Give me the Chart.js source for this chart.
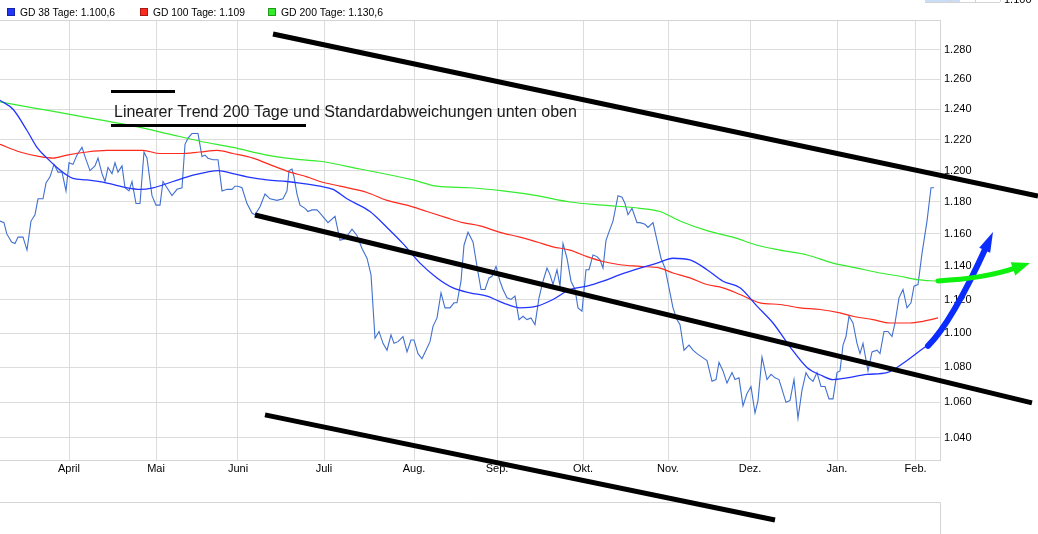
<!DOCTYPE html>
<html><head><meta charset="utf-8">
<script src="https://cdn.jsdelivr.net/npm/chart.js@4.4.1/dist/chart.umd.min.js"></script>
<style>html,body{margin:0;padding:0;background:#fff;overflow:hidden}canvas{display:block}</style>
</head><body>
<canvas id="c" width="1038" height="534"></canvas>
<script>
// x unit = trading day index
const monthLabels = ['April','Mai','Juni','Juli','Aug.','Sep.','Okt.','Nov.','Dez.','Jan.','Feb.'];
const monthDays = [17.25,39,59.5,81,103.5,124.25,145.75,167,187.5,209.25,228.9];
const yTicks = [1.04,1.06,1.08,1.10,1.12,1.14,1.16,1.18,1.20,1.22,1.24,1.26,1.28];
const legendLabels = ['GD 38 Tage: 1.100,6','GD 100 Tage: 1.109','GD 200 Tage: 1.130,6'];

const price = [
[0,1.168],[1,1.167],[1.7,1.160],[2.9,1.155],[3.75,1.154],[4.5,1.158],[5.75,1.158],[6.75,1.150],[7.75,1.168],[8.75,1.172],
[9.5,1.182],[10.75,1.182],[11.5,1.192],[12.5,1.196],[13.5,1.204],[14.5,1.199],[15.5,1.199],[16.5,1.187],[17.25,1.205],[18.25,1.204],
[19.25,1.210],[20.5,1.215],[21.25,1.209],[22.5,1.200],[23.75,1.203],[24.5,1.208],[25.5,1.198],[26.25,1.193],[27,1.202],[28,1.198],
[28.75,1.205],[29.5,1.199],[30.5,1.203],[31.25,1.189],[32.25,1.187],[33,1.193],[34,1.179],[35,1.179],[36,1.212],[36.75,1.208],
[38,1.184],[39,1.178],[40,1.178],[40.75,1.193],[41.75,1.189],[43,1.184],[44.25,1.188],[45.5,1.189],[46.25,1.217],[47,1.221],
[48,1.224],[49.5,1.224],[50.5,1.209],[51.25,1.210],[52,1.208],[53.25,1.207],[54.5,1.207],[55.5,1.187],[56.75,1.188],[58,1.188],
[58.75,1.190],[59.5,1.190],[60.5,1.189],[61.75,1.179],[63,1.173],[63.75,1.172],[65,1.177],[66.25,1.185],[67.5,1.182],[69.25,1.181],
[70.75,1.182],[71.75,1.187],[72.25,1.200],[73,1.201],[73.5,1.196],[74.25,1.185],[75,1.178],[76.25,1.176],[77,1.174],[78,1.175],
[79.25,1.175],[80,1.173],
[82,1.167],[83.75,1.171],[85,1.156],[86.25,1.157],[88,1.163],[89.25,1.159],[90.5,1.151],[91.75,1.145],[92.75,1.135],[93.75,1.097],
[94.75,1.101],[95.75,1.094],[96.75,1.090],[97.75,1.099],[98.5,1.094],[99.5,1.095],[100.75,1.098],[101.75,1.089],[102.75,1.096],[103.5,1.096],
[104.5,1.088],[105.5,1.085],[106.5,1.090],[107.5,1.095],[108.25,1.104],[109.25,1.109],[110.25,1.124],[111.25,1.115],[112.5,1.115],[113.5,1.118],
[114.25,1.118],[115.25,1.131],[116,1.153],[117,1.161],[118.25,1.155],[119.25,1.140],[120.25,1.126],[121.25,1.126],[122.25,1.133],[123,1.134],
[124,1.140],[125,1.131],[125.75,1.126],[126.75,1.121],[127.75,1.120],[128.75,1.122],[129.75,1.108],[130.75,1.110],[131.75,1.108],[132.75,1.109],
[133.75,1.105],[134.75,1.121],[135.75,1.131],[136.75,1.139],[137.5,1.135],[138.25,1.129],[139.25,1.138],[140,1.128],[140.75,1.154],[141.75,1.145],
[142.75,1.131],[143.75,1.126],[144.5,1.115],[145.5,1.113],[146.5,1.138],[147.25,1.138],[148.25,1.147],[149.25,1.146],[150,1.144],[150.75,1.139],
[151.5,1.156],[152.5,1.163],[153.25,1.168],[154.5,1.184],[155.5,1.183],[156.25,1.179],[157,1.172],[158,1.176],[159.25,1.167],[160,1.167],
[161.25,1.166],[162,1.164],[163.25,1.167],[164.25,1.156],[165.25,1.145],[166.25,1.139],[167.5,1.124],[168.25,1.115],[169.25,1.108],[170,1.105],
[171,1.090],[172.25,1.093],[173.25,1.090],[174.25,1.088],[175.5,1.086],[176.75,1.084],[178,1.072],[179,1.073],[179.75,1.083],[180.75,1.078],
[181.75,1.071],[183,1.077],[183.75,1.073],[184.75,1.074],[185.75,1.058],[186.75,1.065],[187.75,1.069],[188.75,1.054],[189.5,1.061],[190.5,1.086],
[191.75,1.073],[192.75,1.076],[193.75,1.074],[194.75,1.073],[196.5,1.060],[197.5,1.061],[198.5,1.073],[199.5,1.051],[200.5,1.067],[201.5,1.077],
[202.25,1.074],[203.25,1.072],[204.25,1.077],[205.25,1.069],[206.25,1.069],[207.25,1.062],[208.25,1.062],[209.25,1.077],[210,1.078],[210.75,1.093],
[211.5,1.098],[212.25,1.110],[213.25,1.106],[214.25,1.094],[215,1.088],[215.75,1.094],[217,1.078],[218,1.089],[219.25,1.090],[220,1.088],
[221,1.101],[222,1.101],[223,1.098],[223.75,1.106],[224.75,1.121],[225.75,1.126],[226.75,1.115],[227.75,1.118],[228.5,1.128],[229.5,1.129],
[230.5,1.148],[231.75,1.168],[232.75,1.189],[233.5,1.189]
];

const gd38 = [
[0,1.246],[3.25,1.240],[6.75,1.226],[9.25,1.215],[11.75,1.208],[14.25,1.202],[16.75,1.197],[18.25,1.195],[21.75,1.194],[26.75,1.192],
[31.75,1.189],[35,1.188],[38.25,1.189],[43.25,1.193],[48.25,1.197],[51.75,1.199],[54.5,1.200],[58.25,1.198],[61.75,1.196],[66.75,1.194],
[71.75,1.193],[75,1.192],[80,1.190],[83.25,1.188],[86.75,1.182],[92.5,1.174],[96.75,1.164],[100.75,1.154],[105,1.142],[109.25,1.133],
[113.25,1.127],[117.5,1.124],[121.75,1.122],[125.75,1.118],[130,1.115],[134.25,1.116],[138.25,1.120],[142.5,1.126],[146.75,1.128],[150.75,1.131],
[155,1.135],[160,1.139],[164.25,1.142],[168.25,1.145],[172.5,1.144],[176.75,1.138],[180.75,1.131],[185,1.127],[189.25,1.116],[193.25,1.106],
[197.5,1.092],[201.75,1.080],[205.75,1.075],[208.25,1.073],[211.75,1.074],[216.75,1.076],[221.75,1.077],[226.75,1.084],[230.75,1.091],[233.25,1.095]
];
const gd100 = [
[0,1.217],[5,1.212],[10,1.209],[13.25,1.208],[16.75,1.210],[21.75,1.212],[26.75,1.213],[31.75,1.213],[35.75,1.213],[40,1.211],
[45,1.211],[50,1.212],[54.25,1.213],[58.25,1.211],[63.25,1.208],[68.25,1.203],[72.5,1.199],[76.75,1.196],[80,1.193],[85,1.190],
[91.75,1.186],[96.75,1.181],[101.75,1.178],[106.75,1.174],[111.75,1.170],[115.75,1.167],[120,1.165],[125,1.161],[130,1.158],[134.25,1.155],
[138.25,1.152],[142.5,1.150],[146.75,1.146],[150.75,1.143],[155,1.141],[160,1.140],[165,1.139],[168.25,1.136],[172.5,1.133],[176.75,1.129],
[180.75,1.127],[185,1.123],[190,1.118],[195,1.117],[200,1.115],[205,1.114],[210,1.112],[213.25,1.110],[218.25,1.108],[222.5,1.106],
[227.5,1.106],[230.75,1.107],[234.5,1.109]
];
const gd200 = [
[0,1.245],[8.25,1.241],[16.75,1.237],[25,1.233],[33.25,1.229],[41.75,1.224],[50,1.219],[58.25,1.215],[66.75,1.210],[75,1.207],
[80,1.206],[90,1.201],[103.25,1.194],[109.25,1.190],[117.5,1.189],[125.75,1.187],[134.25,1.184],[142.5,1.180],[150.75,1.178],[160,1.176],
[165,1.174],[170,1.168],[176.75,1.162],[183.25,1.158],[189.25,1.153],[195,1.150],[201.75,1.147],[208.25,1.142],[214.25,1.139],[220,1.136],
[225,1.134],[229.25,1.132],[234.5,1.131]
];

// hand-drawn annotations, in (day, value)
const trendLines = [
  [[68.25,1.291],[259.5,1.1838]],
  [[63.75,1.1718],[258,1.0597]],
  [[66.25,1.0529],[193.75,0.9953]]
];
const noteLines = [
  [[27.75,1.2519],[43.75,1.2519]],
  [[27.75,1.2293],[76.5,1.2293]]
];
const noteText = 'Linearer Trend 200 Tage und Standardabweichungen unten oben';
const notePos = [28.5,1.2349];
const blueArrow = [[232,1.0925],[238,1.1066],[248.25,1.1612]];
const greenArrow = [[234.5,1.1312],[246.25,1.1326],[257.5,1.1421]];

const colors = {price:'#4170d0', gd38:'#2235ff', gd100:'#ff2a1e', gd200:'#33ec2c'};
const toXY = a => a.map(p => ({x:p[0], y:p[1]}));

const decor = {
  id:'decor',
  afterDraw(chart){
    const ctx = chart.ctx, ca = chart.chartArea;
    const xs = chart.scales.x, ys = chart.scales.y;
    const P = p => [xs.getPixelForValue(p[0]), ys.getPixelForValue(p[1])];
    ctx.save();
    // frame
    ctx.strokeStyle = '#d4d4d4'; ctx.lineWidth = 1;
    ctx.beginPath();
    ctx.moveTo(0, ca.top + 0.5); ctx.lineTo(ca.right + 0.5, ca.top + 0.5);
    ctx.moveTo(ca.right + 0.5, ca.top); ctx.lineTo(ca.right + 0.5, ca.bottom);
    ctx.moveTo(0, 502.5); ctx.lineTo(ca.right + 0.5, 502.5); ctx.lineTo(ca.right + 0.5, 534);
    ctx.stroke();
    // small navigator fragment top right
    ctx.fillStyle = '#c9ddf7'; ctx.fillRect(925, 0, 35, 2);
    ctx.strokeStyle = '#d4d4d4';
    ctx.beginPath(); ctx.moveTo(925, 2.5); ctx.lineTo(1000, 2.5);
    ctx.moveTo(950.5,0); ctx.lineTo(950.5,2); ctx.moveTo(975.5,0); ctx.lineTo(975.5,2); ctx.moveTo(1000.5,0); ctx.lineTo(1000.5,2);
    ctx.stroke();
    ctx.fillStyle = '#000'; ctx.font = '11px "Liberation Sans", Arial, sans-serif';
    ctx.textBaseline = 'alphabetic'; ctx.textAlign = 'left';
    ctx.fillText('1.100', 1004, 3);
    // legend
    const ds = [colors.gd38, colors.gd100, colors.gd200];
    const boxX = [7, 140, 268], textW = [95, 92, 102];
    ctx.textBaseline = 'middle';
    legendLabels.forEach((t, i) => {
      ctx.fillStyle = ds[i]; ctx.fillRect(boxX[i], 8, 8, 8);
      ctx.strokeStyle = 'rgba(0,0,0,0.35)'; ctx.strokeRect(boxX[i] + 0.5, 8.5, 7, 7);
      ctx.fillStyle = '#000'; ctx.fillText(t, boxX[i] + 13, 12.5, textW[i]);
    });
    // trend lines
    ctx.strokeStyle = '#000'; ctx.lineCap = 'butt';
    ctx.lineWidth = 5;
    trendLines.forEach(l => {
      const a = P(l[0]), b = P(l[1]);
      ctx.beginPath(); ctx.moveTo(a[0], a[1]); ctx.lineTo(b[0], b[1]); ctx.stroke();
    });
    ctx.lineWidth = 3;
    noteLines.forEach(l => {
      const a = P(l[0]), b = P(l[1]);
      ctx.beginPath(); ctx.moveTo(a[0], a[1]); ctx.lineTo(b[0], b[1]); ctx.stroke();
    });
    const tp = P(notePos);
    ctx.fillStyle = '#1a1a1a'; ctx.font = '16px "Liberation Sans", Arial, sans-serif';
    ctx.textBaseline = 'alphabetic';
    ctx.fillText(noteText, tp[0], tp[1]);
    // arrows
    const arrow = (pts, col, w, headLen, headW) => {
      const a = P(pts[0]), c = P(pts[1]), b = P(pts[2]);
      const dx = b[0] - c[0], dy = b[1] - c[1], L = Math.hypot(dx, dy);
      const ux = dx / L, uy = dy / L;
      const bx = b[0] - ux * headLen * 0.8, by = b[1] - uy * headLen * 0.8;
      ctx.strokeStyle = col; ctx.fillStyle = col; ctx.lineWidth = w; ctx.lineCap = 'round';
      ctx.beginPath(); ctx.moveTo(a[0], a[1]); ctx.quadraticCurveTo(c[0], c[1], bx, by); ctx.stroke();
      const hx = b[0] - ux * headLen, hy = b[1] - uy * headLen;
      ctx.beginPath();
      ctx.moveTo(b[0], b[1]);
      ctx.lineTo(hx - uy * headW, hy + ux * headW);
      ctx.lineTo(hx + uy * headW, hy - ux * headW);
      ctx.closePath(); ctx.fill();
    };
    arrow(blueArrow, '#0a2cff', 6, 20, 6);
    arrow(greenArrow, '#0ef00e', 5, 18, 7);
    ctx.restore();
  }
};

const line = (label, data, col, w, smooth) => ({
  label, data: toXY(data), borderColor: col, backgroundColor: col, borderWidth: w,
  pointRadius: 0, fill: false, tension: smooth ? 0.4 : 0, cubicInterpolationMode: smooth ? 'monotone' : 'default'
});

new Chart(document.getElementById('c'), {
  type: 'line',
  data: { datasets: [
    line(legendLabels[0], gd38, colors.gd38, 1.3, true),
    line(legendLabels[1], gd100, colors.gd100, 1.2, true),
    line(legendLabels[2], gd200, colors.gd200, 1.2, true),
    line('Kurs', price, colors.price, 1.1, false)
  ]},
  options: {
    responsive: false, animation: false, devicePixelRatio: 1,
    layout: { padding: { top: 20, left: 0, right: 0, bottom: 0 } },
    plugins: { legend: { display: false }, tooltip: { enabled: false } },
    scales: {
      x: {
        type: 'linear', min: 0, max: 235, position: 'bottom',
        afterBuildTicks: s => { s.ticks = monthDays.map(v => ({ value: v })); },
        afterFit: s => { s.height = 74; },
        grid: { color: '#dcdcdc', drawTicks: false },
        border: { color: '#d4d4d4' },
        ticks: {
          autoSkip: false, maxRotation: 0, padding: 2, color: '#000',
          font: { family: '"Liberation Sans", Arial, sans-serif', size: 11 },
          callback: v => { const i = monthDays.indexOf(v); return i >= 0 ? monthLabels[i] : ''; }
        }
      },
      y: {
        type: 'logarithmic', position: 'right', min: 1.0278, max: 1.3007,
        afterBuildTicks: s => { s.ticks = yTicks.map(v => ({ value: v })); },
        afterFit: s => { s.width = 98; },
        grid: { color: '#dcdcdc', drawTicks: false },
        border: { color: '#d4d4d4' },
        ticks: {
          autoSkip: false, padding: 4, color: '#000',
          font: { family: '"Liberation Sans", Arial, sans-serif', size: 11 },
          callback: v => Number(v).toFixed(3)
        }
      }
    }
  },
  plugins: [decor]
});
</script>
</body></html>
